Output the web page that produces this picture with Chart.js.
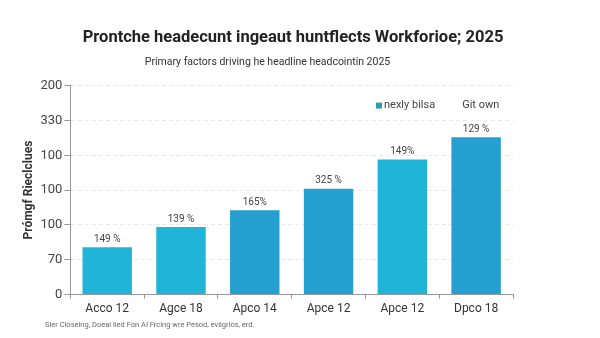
<!DOCTYPE html>
<html>
<head>
<meta charset="utf-8">
<script src="https://cdn.jsdelivr.net/npm/chart.js@4.4.0/dist/chart.umd.min.js"></script>
<style>
    html, body { margin: 0; padding: 0; background: #fff; }
</style>
</head>
<body>
<canvas id="myChart" width="600" height="338"></canvas>
<script>
const categories = ['Acco 12', 'Agce 18', 'Apco 14', 'Apce 12', 'Apce 12', 'Dpco 18'];
const headcount = [68, 97, 121, 152, 194, 226];
const barLabels = ['149 %', '139 %', '165%', '325 %', '149%', '129 %'];
const yTickLabels = ['0', '70', '100', '100', '100', '330', '200'];
const seriesNames = ['nexly bilsa', 'Git own'];

const barColors = ['#1fb4d8', '#1fb4d8', '#249fcf', '#249fcf', '#1fb4d8', '#249fcf'];
const legendColors = ['#2a9fb4', null];

// heading, legend, value text above bars and footnote
const extras = {
    id: 'extras',
    afterDatasetsDraw(chart) {
        const ctx = chart.ctx;
        const area = chart.chartArea;
        const meta = chart.getDatasetMeta(0);
        ctx.save();

        ctx.fillStyle = '#222';
        ctx.font = 'bold 16.5px Roboto';
        ctx.textAlign = 'center';
        ctx.textBaseline = 'middle';
        ctx.fillText('Prontche headecunt ingeaut huntflects Workforioe; 2025', 293, 38);

        ctx.fillStyle = '#444';
        ctx.font = '10px Roboto';
        ctx.textBaseline = 'bottom';
        meta.data.forEach((bar, i) => {
            ctx.fillText(barLabels[i], bar.x, bar.y - 3);
        });

        // legend inside the plot, top right
        ctx.font = '11px Roboto';
        ctx.textAlign = 'left';
        ctx.textBaseline = 'middle';
        let x = area.right - 137;
        const y = area.top + 20;
        seriesNames.forEach((name, i) => {
            if (legendColors[i]) {
                ctx.fillStyle = legendColors[i];
                ctx.fillRect(x, y - 3, 6, 6);
                x += 8;
            }
            ctx.fillStyle = '#444';
            ctx.fillText(name, x, y);
            x += ctx.measureText(name).width + 27;
        });

        ctx.fillStyle = '#666';
        ctx.font = '7.5px Roboto';
        ctx.fillText('Sler Closeing, Doeal lied Fon AI Frcing wre Pesod, eviigrios, erd.', 45, 325);
        ctx.restore();
    }
};

const ctx = document.getElementById('myChart').getContext('2d');
const myChart = new Chart(ctx, {
    type: 'bar',
    data: {
        labels: categories,
        datasets: [{
            label: seriesNames[0],
            data: headcount,
            backgroundColor: barColors,
            barPercentage: 0.67,
            categoryPercentage: 1
        }]
    },
    options: {
        responsive: false,
        animation: false,
        layout: {
            padding: { left: 22, right: 87, bottom: 19, top: 56 }
        },
        scales: {
            y: {
                min: 0,
                max: 300,
                ticks: {
                    stepSize: 50,
                    color: '#444',
                    font: { family: 'Roboto', size: 13 },
                    padding: 2,
                    callback: function(value, index) {
                        return yTickLabels[index];
                    }
                },
                grid: {
                    color: '#e8e8e8',
                    tickColor: '#999',
                    tickLength: 6
                },
                border: { color: '#999', dash: [4, 3] },
                title: {
                    display: true,
                    text: 'Prómgf Rieclclues',
                    color: '#333',
                    font: { family: 'Roboto', size: 12, weight: 'bold' },
                    padding: { top: 0, bottom: 2 }
                }
            },
            x: {
                ticks: {
                    color: '#333',
                    font: { family: 'Roboto', size: 12 },
                    padding: 3
                },
                grid: {
                    drawOnChartArea: false,
                    tickColor: '#999',
                    tickLength: 4
                },
                border: { color: '#999' }
            }
        },
        plugins: {
            subtitle: {
                display: true,
                text: 'Primary factors driving he headline headcointin 2025',
                color: '#333',
                font: { family: 'Roboto', size: 10.5 },
                padding: { top: 0, bottom: 17 }
            },
            legend: { display: false },
            tooltip: { enabled: false }
        }
    },
    plugins: [extras]
});
</script>
</body>
</html>
